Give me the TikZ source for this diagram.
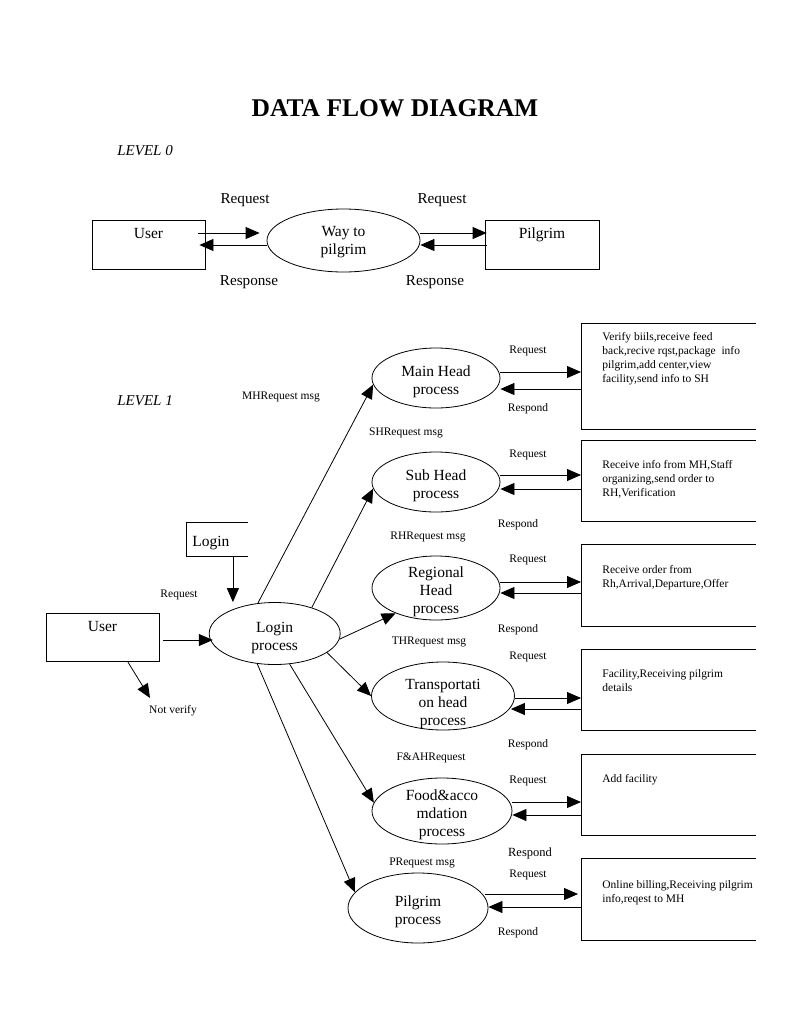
\documentclass[tikz,border=0pt]{standalone}
\usepackage{fontspec}
\setmainfont{Liberation Serif}
\usepackage{tikz}
\usetikzlibrary{positioning,shapes.geometric,arrows.meta}

\tikzset{
  proc/.style={ellipse, draw, inner sep=-12pt, align=center, text height=36.5pt, font=\fontsize{15.5}{18}\selectfont},
  proc3/.style={proc, text height=54.5pt},
  ent/.style={draw, inner sep=0pt, align=center, text height=18.5pt, text depth=31pt, font=\fontsize{15.5}{18}\selectfont},
  store/.style={inner sep=0pt, anchor=north west},
  storetext/.style={inner sep=0pt, align=left, font=\fontsize{11.5}{14}\selectfont},
  lbl/.style={inner sep=0pt, yshift=-2pt, font=\fontsize{11.5}{14}\selectfont},
  biglbl/.style={inner sep=0pt, yshift=-1.5pt, font=\fontsize{15.2}{18}\selectfont},
  flow/.style={-{Triangle[length=14pt,width=12pt]}},
}

\begin{document}
\begin{tikzpicture}[x=1pt, y=-1pt, line width=0.8pt]
\useasboundingbox (0,0) rectangle (791,1023);

\node[inner sep=0pt, font=\fontsize{25.5}{30}\selectfont\bfseries] (title) at (395,108) {DATA FLOW DIAGRAM};
\node[biglbl, anchor=west, font=\fontsize{15}{18}\selectfont\itshape] (lev0) at (117,149) {LEVEL 0};
\node[biglbl, anchor=west, font=\fontsize{15}{18}\selectfont\itshape] (lev1) at (117,399) {LEVEL 1};

% level 0
\node[ent, text width=113pt] (u0) at (148.5,245) {User};
\node[proc, text height=31.5pt, minimum width=153pt, minimum height=63pt] (wp) at (343.5,240.5) {Way to\\pilgrim};
\node[ent, text width=114pt] (p0) at (542,245) {Pilgrim};
\draw[flow] ([shift={(-7,-12)}]u0.east) -- ([shift={(-7,-12)}]u0.east -| wp.west);
\draw[flow] (wp.west |- u0.east) -- ([xshift=-6pt]u0.east);
\draw[flow] ([shift={(0,-12)}]wp.east |- p0.west) -- ([shift={(2,-12)}]p0.west);
\draw[flow] ([xshift=2pt]p0.west) -- (wp.east |- p0.west);
\node[biglbl] (rq0a) at (245,199) {Request};
\node[biglbl] (rq0b) at (442,199) {Request};
\node[biglbl] (rs0a) at (249,281) {Response};
\node[biglbl] (rs0b) at (435,281) {Response};

% level 1
\node[ent, text width=113pt, text depth=30pt] (u1) at (102.5,637.5) {User};
\node[store, minimum width=61pt, minimum height=34pt, inner xsep=6pt, text width=49pt, align=left,
      text height=17pt, font=\fontsize{15.5}{18}\selectfont] (login) at (186,522) {Login};
\draw (login.north east) -- (login.north west) -- (login.south west) -- (login.south east);
\node[proc, minimum width=131pt, minimum height=62pt] (lp) at (274.7,633.5) {Login\\process};

\node[proc, minimum width=128pt, minimum height=60pt] (mh) at (436,378) {Main Head\\process};
\node[proc, minimum width=128pt, minimum height=60pt] (sh) at (436,482) {Sub Head\\process};
\node[proc3, minimum width=128pt, minimum height=64pt] (rh) at (436,588) {Regional\\Head\\process};
\node[proc3, text height=61.5pt, minimum width=143pt, minimum height=68pt] (th) at (443,696) {Transportati\\on head\\process};
\node[proc3, minimum width=140pt, minimum height=66pt] (fa) at (442,811) {Food\&acco\\mdation\\process};
\node[proc, minimum width=140pt, minimum height=70pt] (pg) at (418,908) {Pilgrim\\process};

\node[store, minimum width=174pt, minimum height=106pt] (b1) at (581,323) {};
\node[store, minimum width=174pt, minimum height=81pt] (b2) at (581,440) {};
\node[store, minimum width=174pt, minimum height=82pt] (b3) at (581,544) {};
\node[store, minimum width=174pt, minimum height=81pt] (b4) at (581,649) {};
\node[store, minimum width=174pt, minimum height=81pt] (b5) at (581,754) {};
\node[store, minimum width=174pt, minimum height=82pt] (b6) at (581,858) {};
\foreach \b in {b1,b2,b3,b4,b5,b6}
  \draw (\b.north east) -- (\b.north west) -- (\b.south west) -- (\b.south east);

\node[storetext, below right=9pt and 21pt of b1.north west] (t1) {Verify biils,receive feed\\back,recive rqst,package\ \ info\\pilgrim,add center,view\\facility,send info to SH};
\node[storetext, below right=20pt and 21pt of b2.north west] (t2) {Receive info from MH,Staff\\organizing,send order to\\RH,Verification};
\node[storetext, below right=21pt and 21pt of b3.north west] (t3) {Receive order from\\Rh,Arrival,Departure,Offer};
\node[storetext, below right=20pt and 21pt of b4.north west] (t4) {Facility,Receiving pilgrim\\details};
\node[storetext, below right=20pt and 21pt of b5.north west] (t5) {Add facility};
\node[storetext, below right=22pt and 21pt of b6.north west] (t6) {Online billing,Receiving pilgrim\\info,reqest to MH};

\draw[flow] ([xshift=16pt]login.south) -- ([xshift=16pt]login.south |- lp.north);
\draw[flow] ([shift={(4,2.5)}]u1.east) -- ([shift={(4,2.5)}]u1.east -| lp.west);
\coordinate (nv) at (150,698);
\draw[flow] ([xshift=25.5pt]u1.south) -- (nv);

\draw[flow] (lp.119) -- (mh.186);
\draw[flow] (lp.35) -- (sh.186);
\draw[flow] (lp.355) -- (rh.212);
\draw[flow] (lp.340) -- (th.west);
\draw[flow] (lp.296) -- (fa.173);
\draw[flow] (lp.240) -- (pg.166);

\draw[flow] ([shift={(0,-6)}]mh.east) -- ([shift={(0,-6)}]mh.east -| b1.west);
\draw[flow] ([shift={(0,11)}]mh.east -| b1.west) -- ([shift={(0,11)}]mh.east);
\draw[flow] ([shift={(0,-7)}]sh.east) -- ([shift={(0,-7)}]sh.east -| b2.west);
\draw[flow] ([shift={(0,7)}]sh.east -| b2.west) -- ([shift={(0,7)}]sh.east);
\draw[flow] ([shift={(0,-6)}]rh.east) -- ([shift={(0,-6)}]rh.east -| b3.west);
\draw[flow] ([shift={(0,5)}]rh.east -| b3.west) -- ([shift={(0,5)}]rh.east);
\draw[flow] ([shift={(0,2)}]th.east) -- ([shift={(0,2)}]th.east -| b4.west);
\draw[flow] ([shift={(0,13)}]th.east -| b4.west) -- ([shift={(-4,13)}]th.east);
\draw[flow] ([shift={(0,-9)}]fa.east) -- ([shift={(0,-9)}]fa.east -| b5.west);
\draw[flow] ([shift={(0,4)}]fa.east -| b5.west) -- ([shift={(0,4)}]fa.east);
\draw[flow] ([shift={(-3,-14)}]pg.east) -- ([shift={(-3,-14)}]pg.east -| b6.west);
\draw[flow] ([shift={(0,-1)}]pg.east -| b6.west) -- ([shift={(0,-1)}]pg.east);

\node[lbl] (rq1) at (528,349) {Request};
\node[lbl] (rs1) at (528,407) {Respond};
\node[lbl] (rq2) at (528,453) {Request};
\node[lbl] (rs2) at (518,523) {Respond};
\node[lbl] (rq3) at (528,558) {Request};
\node[lbl] (rs3) at (518,628) {Respond};
\node[lbl] (rq4) at (528,655) {Request};
\node[lbl] (rs4) at (528,743) {Respond};
\node[lbl] (rq5) at (528,779) {Request};
\node[lbl, font=\fontsize{12.5}{14}\selectfont] (rs5) at (530,851) {Respond};
\node[lbl] (rq6) at (528,873) {Request};
\node[lbl] (rs6) at (518,931) {Respond};

\node[lbl] (mhmsg) at (281,395) {MHRequest msg};
\node[lbl] (shmsg) at (406,431) {SHRequest msg};
\node[lbl] (rhmsg) at (428,535) {RHRequest msg};
\node[lbl] (thmsg) at (429,640) {THRequest msg};
\node[lbl] (famsg) at (431,756) {F\&AHRequest};
\node[lbl] (pgmsg) at (422,861) {PRequest msg};
\node[lbl] (rqlog) at (179,593) {Request};
\node[lbl] (nvlbl) at (173,709) {Not verify};
\end{tikzpicture}
\end{document}
